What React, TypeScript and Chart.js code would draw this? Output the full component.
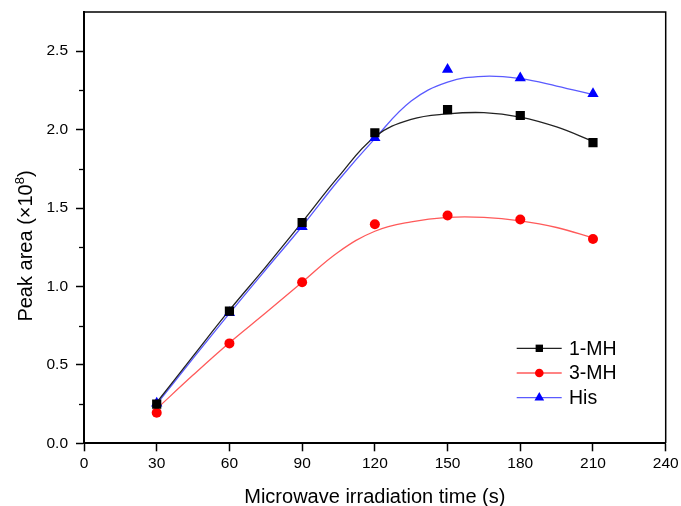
import React, { useEffect, useRef } from 'react';
import { Chart, registerables } from 'chart.js';
import { drawPoint } from 'chart.js/helpers';

Chart.register(...registerables);

// Measured points
const times = [30, 60, 90, 120, 150, 180, 210];
const mh1 = [0.25, 0.843, 1.408, 1.98, 2.127, 2.09, 1.917];
const mh3 = [0.195, 0.637, 1.027, 1.397, 1.452, 1.427, 1.303];
const his = [0.255, 0.832, 1.38, 1.949, 2.384, 2.329, 2.229];

// Fitted curves
const fitTimes = [30, 45, 60, 75, 90, 105, 120, 135, 150, 165, 180, 195, 210];
const mh1Fit = [0.26, 0.556, 0.849, 1.125, 1.41, 1.70, 1.955, 2.065, 2.10, 2.108, 2.08, 2.017, 1.925];
const mh3Fit = [0.22, 0.435, 0.641, 0.832, 1.027, 1.22, 1.352, 1.412, 1.44, 1.44, 1.418, 1.376, 1.31];
const hisFit = [0.25, 0.541, 0.828, 1.108, 1.384, 1.677, 1.943, 2.182, 2.303, 2.34, 2.325, 2.278, 2.223];

const seriesNames = ['1-MH', '3-MH', 'His'];
const xTitle = 'Microwave irradiation time (s)';
const yTitleMain = 'Peak area (×10';
const yTitleSup = '8';
const yTitleEnd = ')';

const FONT = '"Liberation Sans", Arial, sans-serif';
const markerColors = ['#000000', '#ff0000', '#0000ff'];
const lineColors = ['#222222', '#ff5a5a', '#5a5aff'];
const pointStyles = ['rect', 'circle', 'triangle'];
const pointRadii = [6.5, 5, 6.5];
const legendRadii = [5.2, 4.3, 5.6];

const toXY = (xs: number[], ys: number[]) => xs.map((x, i) => ({ x, y: ys[i] }));

const decorPlugin = {
  id: 'decor',
  afterDraw(chart: any) {
    const { ctx, chartArea: a, scales } = chart;
    ctx.save();
    // frame top/right
    ctx.strokeStyle = '#000';
    ctx.lineWidth = 1.5;
    ctx.beginPath();
    ctx.moveTo(a.left, a.top);
    ctx.lineTo(a.right, a.top);
    ctx.lineTo(a.right, a.bottom);
    ctx.stroke();

    // minor y ticks
    const ys = scales.y;
    const tks = ys.ticks;
    ctx.lineWidth = 1.3;
    for (let i = 0; i < tks.length - 1; i++) {
      const v = (tks[i].value + tks[i + 1].value) / 2;
      const py = Math.round(ys.getPixelForValue(v)) + 0.5;
      ctx.beginPath();
      ctx.moveTo(a.left - 5, py);
      ctx.lineTo(a.left, py);
      ctx.stroke();
    }

    // x title
    ctx.fillStyle = '#000';
    ctx.font = `20px ${FONT}`;
    ctx.textAlign = 'center';
    ctx.textBaseline = 'alphabetic';
    ctx.fillText(xTitle, (a.left + a.right) / 2, 503);

    // y title
    ctx.save();
    ctx.translate(31.5, 246);
    ctx.rotate(-Math.PI / 2);
    ctx.textAlign = 'left';
    ctx.font = `20px ${FONT}`;
    const w1 = ctx.measureText(yTitleMain).width;
    const w3 = ctx.measureText(yTitleEnd).width;
    ctx.font = `13px ${FONT}`;
    const w2 = ctx.measureText(yTitleSup).width;
    const total = w1 + w2 + w3;
    let sx = -total / 2;
    ctx.font = `20px ${FONT}`;
    ctx.fillText(yTitleMain, sx, 0);
    sx += w1;
    ctx.font = `13px ${FONT}`;
    ctx.fillText(yTitleSup, sx, -8);
    sx += w2;
    ctx.font = `20px ${FONT}`;
    ctx.fillText(yTitleEnd, sx, 0);
    ctx.restore();

    // legend
    ctx.font = `19.5px ${FONT}`;
    ctx.textAlign = 'left';
    ctx.textBaseline = 'middle';
    seriesNames.forEach((name, i) => {
      const ly = a.top + 336.3 + i * 24.7;
      ctx.strokeStyle = lineColors[i];
      ctx.lineWidth = 1.3;
      ctx.beginPath();
      ctx.moveTo(a.right - 149, ly);
      ctx.lineTo(a.right - 104, ly);
      ctx.stroke();
      ctx.fillStyle = markerColors[i];
      ctx.strokeStyle = markerColors[i];
      drawPoint(ctx, { pointStyle: pointStyles[i], radius: legendRadii[i], borderWidth: 0, rotation: 0 } as any, a.right - 126.4, ly);
      ctx.fillStyle = '#000';
      ctx.fillText(name, a.right - 96.7, ly + 1);
    });
    ctx.restore();
  },
};

export default function App() {
  const ref = useRef<HTMLCanvasElement>(null);
  useEffect(() => {
    document.body.style.margin = '0';
    const fits = [mh1Fit, mh3Fit, hisFit];
    const pts = [mh1, mh3, his];
    const datasets: any[] = [];
    pts.forEach((p, i) => {
      datasets.push({
        label: seriesNames[i],
        data: toXY(times, p),
        showLine: false,
        pointStyle: pointStyles[i],
        pointRadius: pointRadii[i],
        pointBackgroundColor: markerColors[i],
        pointBorderColor: markerColors[i],
        pointBorderWidth: 0,
        order: 0,
      });
    });
    fits.forEach((f, i) => {
      datasets.push({
        label: seriesNames[i] + ' fit',
        data: toXY(fitTimes, f),
        showLine: true,
        borderColor: lineColors[i],
        borderWidth: 1.3,
        pointRadius: 0,
        tension: 0.4,
        fill: false,
        order: 1,
      });
    });
    const chart = new Chart(ref.current!, {
      type: 'scatter',
      data: { datasets },
      options: {
        animation: false,
        responsive: false,
        devicePixelRatio: 1,
        layout: { padding: { left: 0, top: 12, right: 15.3, bottom: 0 } },
        plugins: { legend: { display: false }, tooltip: { enabled: false } },
        scales: {
          x: {
            type: 'linear',
            min: 0,
            max: 240,
            afterFit: (s: any) => { s.height = 62.7; s.paddingLeft = 0; s.paddingRight = 0; },
            ticks: { stepSize: 30, color: '#000', font: { size: 15.5, family: FONT }, padding: 3, maxRotation: 0 },
            grid: { display: true, drawOnChartArea: false, drawTicks: true, tickLength: 8, tickColor: '#000', tickWidth: 1.5 },
            border: { display: true, color: '#000', width: 2 },
            title: { display: false },
          },
          y: {
            type: 'linear',
            min: 0,
            max: 2.75,
            afterFit: (s: any) => { s.width = 84; s.paddingTop = 0; s.paddingBottom = 0; },
            ticks: {
              stepSize: 0.5,
              includeBounds: false,
              color: '#000',
              font: { size: 15.5, family: FONT },
              padding: 8,
              callback: (v: any) => Number(v).toFixed(1),
            },
            grid: { display: true, drawOnChartArea: false, drawTicks: true, tickLength: 8, tickColor: '#000', tickWidth: 1.5 },
            border: { display: true, color: '#000', width: 2 },
            title: { display: false },
          },
        },
      },
      plugins: [decorPlugin],
    } as any);
    return () => chart.destroy();
  }, []);
  return (
    <div style={{ position: 'fixed', left: 0, top: 0, width: 681, height: 506, background: '#fff' }}>
      <canvas ref={ref} width={681} height={506} />
    </div>
  );
}
